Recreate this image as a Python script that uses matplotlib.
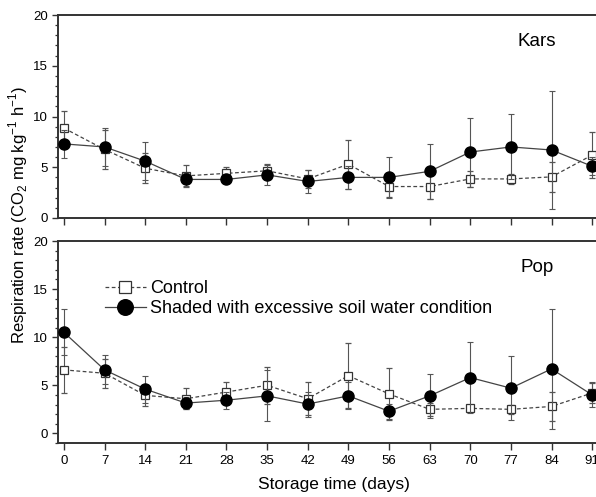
import matplotlib
matplotlib.use('Agg')
import matplotlib.pyplot as plt
from matplotlib.ticker import MultipleLocator

plt.rcParams['font.family'] = ['Liberation Sans', 'DejaVu Sans']
plt.rcParams['mathtext.fontset'] = 'custom'
plt.rcParams['mathtext.rm'] = 'Liberation Sans'

# storage days
days = [0, 7, 14, 21, 28, 35, 42, 49, 56, 63, 70, 77, 84, 91]

# Kars
kars_ctrl = [8.85, 6.75, 4.9, 4.15, 4.4, 4.65, 3.85, 5.3, 3.1, 3.1, 3.85, 3.85, 4.05, 6.2]
kars_ctrl_err = [1.65, 1.9, 1.5, 1.05, 0.65, 0.65, 0.9, 2.4, 1.0, 1.2, 0.8, 0.5, 1.45, 2.25]
kars_shade = [7.3, 7.0, 5.6, 3.8, 3.8, 4.25, 3.6, 4.0, 4.0, 4.6, 6.5, 7.0, 6.7, 5.1]
kars_shade_err = [1.4, 1.9, 1.9, 0.6, 0.3, 0.95, 1.1, 1.1, 2.0, 2.7, 3.4, 3.2, 5.8, 0.9]

# Pop
pop_ctrl = [6.6, 6.25, 3.95, 3.6, 4.3, 5.0, 3.6, 6.0, 4.1, 2.5, 2.6, 2.5, 2.8, 4.2]
pop_ctrl_err = [2.35, 1.5, 1.1, 1.1, 1.0, 1.95, 1.7, 3.4, 2.7, 0.7, 0.4, 0.5, 1.5, 1.05]
pop_shade = [10.5, 6.6, 4.6, 3.15, 3.45, 3.9, 3.05, 3.9, 2.3, 3.9, 5.8, 4.7, 6.7, 4.0]
pop_shade_err = [2.4, 1.5, 1.4, 0.65, 0.9, 2.65, 1.3, 1.4, 0.8, 2.25, 3.7, 3.35, 6.25, 1.3]

W, H = 596, 497
fig = plt.figure(figsize=(W / 100, H / 100), dpi=100)
ax1 = fig.add_axes([58 / W, (H - 218) / H, 562 / W, 203 / H])
ax2 = fig.add_axes([58 / W, (H - 443) / H, 562 / W, 202 / H])

line_c = '#444444'
err_c = '#555555'


def draw(ax, ctrl, ctrl_err, shade, shade_err, name, ylo, ytxt):
    c = ax.errorbar(days, ctrl, yerr=ctrl_err, fmt='s', ls='--', lw=0.9, color=line_c,
                    mfc='white', mec='#333333', mew=0.9, ms=6, ecolor=err_c, elinewidth=0.8,
                    capsize=2.2, capthick=0.8, dashes=(3, 2), zorder=3)
    s = ax.errorbar(days, shade, yerr=shade_err, fmt='o', ls='-', lw=0.9, color=line_c,
                    mfc='black', mec='black', ms=8, ecolor=err_c, elinewidth=0.8,
                    capsize=2.2, capthick=0.8, zorder=4)
    ax.set_xlim(-1.03, 95.8)
    ax.set_ylim(ylo, 20)
    ax.set_xticks(days)
    ax.set_yticks([0, 5, 10, 15, 20])
    ax.yaxis.set_minor_locator(MultipleLocator(1))
    ax.tick_params(axis='both', which='major', direction='out', labelsize=9.5,
                   color='#333333', width=1.0)
    ax.tick_params(axis='y', which='major', length=4)
    ax.tick_params(axis='y', which='minor', direction='out', length=2.5, width=0.9,
                   color='#333333')
    ax.tick_params(axis='x', which='major', length=5)
    for sp in ax.spines.values():
        sp.set_linewidth(1.4)
        sp.set_color('#333333')
    ax.text((537 - 58) / 562, ytxt, name, transform=ax.transAxes,
            ha='center', va='center', fontsize=13.5)
    return c, s


draw(ax1, kars_ctrl, kars_ctrl_err, kars_shade, kars_shade_err, 'Kars', 0, 0.87)
ax1.set_xticklabels([])

c, s = draw(ax2, pop_ctrl, pop_ctrl_err, pop_shade, pop_shade_err, 'Pop', -1, 0.87)
ax2.set_xlabel('Storage time (days)', fontsize=12.5)
ax2.xaxis.set_label_coords((334 - 58) / 562, -0.17)

leg = ax2.legend([c.lines[0], s.lines[0]],
                 ['Control', 'Shaded with excessive soil water condition'],
                 loc='upper left', bbox_to_anchor=(0.083, 0.805), frameon=False,
                 fontsize=13, handlelength=2.3, handletextpad=0.2, labelspacing=0.15,
                 borderaxespad=0, borderpad=0, markerscale=1.4)

fig.text(18 / W, (H - 215) / H, 'Respiration rate (CO$_2$ mg kg$^{-1}$ h$^{-1}$)',
         rotation=90, ha='center', va='center', fontsize=12)

fig.savefig('out.png', dpi=100)
